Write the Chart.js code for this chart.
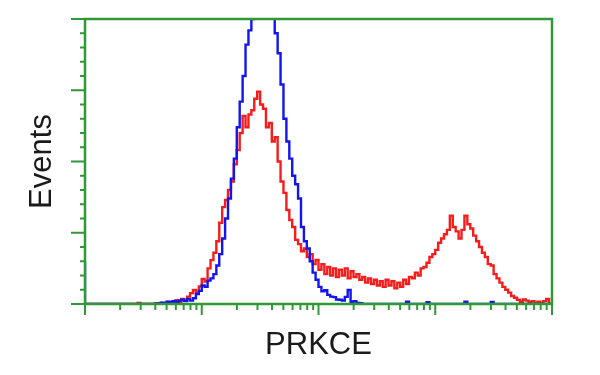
<!DOCTYPE html>
<html>
<head>
<meta charset="utf-8">
<script src="https://cdn.jsdelivr.net/npm/chart.js@4/dist/chart.umd.min.js"></script>
<style>
  html, body { margin: 0; padding: 0; background: #ffffff; }
  #wrap { width: 600px; height: 375px; }
</style>
</head>
<body>
<div id="wrap"><canvas id="c" width="600" height="375"></canvas></div>
<script>
// ---- Data (histogram bins on a 4-decade log axis, 40 bins per decade) ----
const xTitle = 'PRKCE';
const yTitle = 'Events';
const binsPerDecade = 40;
const decades = 4;

// Blue histogram (control), bin 0 .. 160
const blueCounts = [
  15,0,0,0,0,0,0,0,0,0,
  0,0,0,0,0,0,0,0,0,0,
  0,0,0,0,0,0,0.3,0.5,0.4,0.8,
  0.6,1.0,0.7,1.2,1.5,1.0,1.8,1.2,2.0,3.5,
  4.6,6.5,6.0,8.2,9.0,10.5,13.5,17.5,23,30,
  37,44,51,62,71,80,91,96,100,105,
  108,110,109,111,107,101,95,88,77,65,
  57,51,45,42,37,27,22,19.5,15,11,
  8.5,6,4.5,4.8,3.2,2.6,2.4,1.6,1.5,1.2,
  2.5,4.9,0.8,1.0,0.4,0.3,0,0,0,0,
  0,0,0,0,0,0,0,0,0,0,
  0,0.8,0,0,0,0,0,0,0.6,0,
  0,0,0,0,0,0,0,0,0,0,
  0,0.8,0,0,0,0,0,0,0,0,
  0.7,0,0,0,0,0,0,0,0,0,
  0,0,0,0,0,0,0,0,0,0,
  0
];

// Red histogram (PRKCE stained), bin 0 .. 160
const redCounts = [
  0,0,0,0,0,0,0,0,0,0,
  0,0,0,0,0,0,0,0,0,0.4,
  0,0,0,0,0,0.3,0,0.4,0.3,0.7,
  0.5,0.9,1.3,0.8,1.8,1.2,2.6,3.8,4.9,4.0,
  6.2,8.8,7.9,12.5,15.4,18.0,22.0,28.5,34.0,36.5,
  40.0,43.0,49.0,54.0,60.0,66.0,62.0,66.5,68.0,72.0,
  74.5,70.0,68.5,62.0,63.5,57.0,58.5,50.0,43.0,39.0,
  33.0,29.5,27.0,22.5,21.0,18.5,19.5,16.5,17.5,14.0,
  15.5,12.0,14.0,10.5,13.0,10.0,12.5,9.5,12.0,10.0,
  12.5,9.0,11.5,9.5,10.5,8.5,9.5,7.5,9.0,7.0,
  8.5,6.5,8.0,6.0,8.5,6.5,8.0,5.5,7.5,6.0,
  8.5,7.0,9.5,9.0,11.0,10.0,12.5,13.0,14.5,16.5,
  17.5,19.0,21.5,23.0,24.5,26.0,31.0,27.0,25.5,23.0,
  26.0,31.0,28.0,26.5,24.0,22.0,20.0,18.0,16.5,14.0,
  13.5,10.5,9.0,7.5,6.0,5.0,4.0,2.8,2.2,1.5,
  0.8,1.6,1.2,0.6,1.0,0.3,0.8,0.2,1.0,1.8,
  0
];

// Axis ticks
const xDecadeTicks = [1, 10, 100, 1000, 10000];
const xMinorMultipliers = [2, 3, 4, 5, 6, 7, 8, 9];
const yMajorTicks = [0, 25, 50, 75, 100];
const yMinorTicks = [5,10,15,20,30,35,40,45,55,60,65,70,80,85,90,95];

// Bin positions (fluorescence value at each bin edge)
const binValues = blueCounts.map((_, i) => Math.pow(10, i / binsPerDecade));

const GREEN = '#2f9a35';

const frameTicks = {
  id: 'frameTicks',
  afterDatasetsDraw(chart) {
    const { ctx, chartArea: a, scales: { x, y } } = chart;
    ctx.save();
    ctx.strokeStyle = GREEN;
    ctx.lineCap = 'butt';
    ctx.lineWidth = 2;
    const seg = (x1, y1, x2, y2) => { ctx.beginPath(); ctx.moveTo(x1, y1); ctx.lineTo(x2, y2); ctx.stroke(); };
    yMajorTicks.forEach(v => { const p = y.getPixelForValue(v); seg(a.left - 14, p, a.left, p); });
    yMinorTicks.forEach(v => { const p = y.getPixelForValue(v); seg(a.left - 5, p, a.left, p); });
    xDecadeTicks.forEach(v => { const p = x.getPixelForValue(v); seg(p, a.bottom, p, a.bottom + 11); });
    xDecadeTicks.slice(0, -1).forEach(d => {
      xMinorMultipliers.forEach(k => { const p = x.getPixelForValue(d * k); seg(p, a.bottom, p, a.bottom + 6); });
    });
    ctx.lineWidth = 2.5;
    ctx.strokeRect(a.left, a.top, a.right - a.left, a.bottom - a.top);
    ctx.restore();
  }
};

new Chart(document.getElementById('c'), {
  type: 'line',
  data: {
    datasets: [
      {
        label: 'Control',
        data: binValues.map((v, i) => ({ x: v, y: blueCounts[i] })),
        borderColor: '#1414f0',
        borderWidth: 2.4,
        pointRadius: 0,
        stepped: 'after',
        fill: false
      },
      {
        label: 'PRKCE',
        data: binValues.map((v, i) => ({ x: v, y: redCounts[i] })),
        borderColor: '#f51c1c',
        borderWidth: 2.4,
        pointRadius: 0,
        stepped: 'after',
        fill: false
      }
    ]
  },
  plugins: [frameTicks],
  options: {
    responsive: false,
    animation: false,
    devicePixelRatio: 1,
    layout: { padding: { top: 19, right: 48, left: 0, bottom: 0 } },
    plugins: { legend: { display: false }, tooltip: { enabled: false } },
    scales: {
      x: {
        type: 'logarithmic',
        min: 1,
        max: 10000,
        grid: { display: false },
        border: { display: false },
        ticks: { display: false },
        title: {
          display: true,
          text: xTitle,
          color: '#1a1a1a',
          font: { family: "'Liberation Sans', Arial, sans-serif", size: 31 },
          padding: { top: 0, bottom: 11 }
        },
        afterFit: s => { s.height = 71; }
      },
      y: {
        type: 'linear',
        min: 0,
        max: 100,
        grid: { display: false },
        border: { display: false },
        ticks: { display: false },
        title: {
          display: true,
          text: yTitle,
          color: '#1a1a1a',
          font: { family: "'Liberation Sans', Arial, sans-serif", size: 31 },
          padding: { top: 24, bottom: 0 }
        },
        afterFit: s => { s.width = 85; }
      }
    }
  }
});
</script>
</body>
</html>
